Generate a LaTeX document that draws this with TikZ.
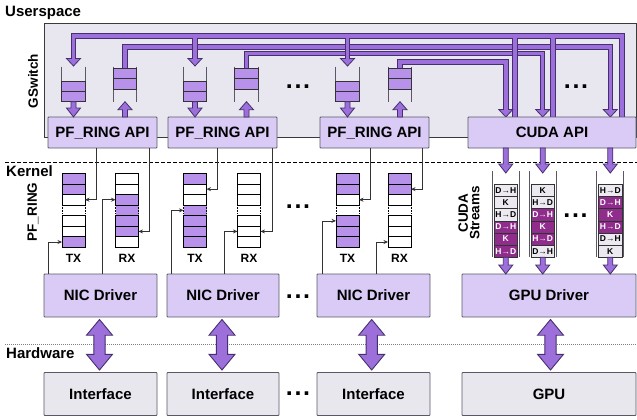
\documentclass[tikz,border=0pt]{standalone}
\usepackage{fontspec}
\setmainfont{Liberation Sans}
\usetikzlibrary{arrows.meta,calc}
\definecolor{panel}{HTML}{E8E6EE}
\definecolor{panelline}{HTML}{3A3A3A}
\definecolor{boxp}{HTML}{D9CBF5}
\definecolor{boxg}{HTML}{E9E7EE}
\definecolor{boxedge}{HTML}{5A5866}
\definecolor{qp}{HTML}{B892EA}
\definecolor{ap}{HTML}{9C6FDB}
\definecolor{ad}{HTML}{452F6E}
\definecolor{mag}{HTML}{8F2C8C}
\definecolor{lc}{HTML}{ECEAF0}
\definecolor{connc}{HTML}{333333}
\tikzset{
 lbl/.style={font=\fontsize{15}{18}\selectfont\bfseries, inner sep=0pt},
 rlbl/.style={font=\fontsize{13.5}{11.5}\selectfont\bfseries, inner sep=0pt, rotate=90, align=center},
 small/.style={font=\fontsize{12}{14}\selectfont\bfseries, inner sep=0pt},
 box/.style={draw=boxedge, line width=0.8pt, inner sep=0pt, rounded corners=0.8pt,
   font=\fontsize{15}{18}\selectfont\bfseries, text height=10.8pt, text depth=0pt},
 apibox/.style={box, fill=boxp, minimum height=31pt},
 drvbox/.style={box, fill=boxp, minimum height=43pt},
 hwbox/.style={box, fill=boxg, minimum height=43pt},
 ucell/.style={draw=connc, line width=0.7pt, fill=qp, minimum width=23.4pt, minimum height=10.3pt, inner sep=0pt, outer sep=0pt},
 qside/.style={draw=boxedge, line width=0.8pt},
 rcell/.style={minimum width=23pt, minimum height=10.57pt, inner sep=0pt, outer sep=0pt},
 rborder/.style={draw=black, line width=0.7pt},
 scell/.style={draw=connc, line width=0.6pt, minimum width=23.7pt, minimum height=12.17pt, inner sep=0pt, outer sep=0pt,
   font=\fontsize{8.5}{9}\selectfont\bfseries},
 conn/.style={draw=connc, line width=0.7pt, -{Stealth[length=4.5pt,width=4pt]}},
 fat/.style={draw=ad, fill=ap, line width=0.8pt, line join=miter},
 pipe/.style={draw=ap, line width=3.4pt, line join=miter, preaction={draw=ad, line width=5.4pt, line join=miter}},
 dotsn/.style={font=\fontsize{25}{25}\selectfont\bfseries, inner sep=0pt},
}
\newcommand\pipehead[2]{%
  \filldraw[fat] (#1-7,#2-7.5) -- (#1+7,#2-7.5) -- (#1,#2) -- cycle;
  \fill[ap] (#1-1.7,#2-8.6) rectangle (#1+1.7,#2-7);
}
\newcommand\fatarrow[6]{%
  \pgfmathsetmacro\dd{(#3>#2) ? 1 : -1}%
  \pgfmathsetmacro\hb{#3-\dd*#6}%
  \filldraw[fat] (#1-#4,#2) -- (#1-#4,\hb) -- (#1-#5,\hb) -- (#1,#3) -- (#1+#5,\hb) -- (#1+#4,\hb) -- (#1+#4,#2) -- cycle;
}
\newcommand\dblarrow[3]{%
  \filldraw[fat, line width=0.9pt] (#1,#2) -- (#1+13,#2+15.7) -- (#1+5.6,#2+15.7) -- (#1+5.6,#3-15.7) -- (#1+13,#3-15.7) -- (#1,#3)
   -- (#1-13,#3-15.7) -- (#1-5.6,#3-15.7) -- (#1-5.6,#2+15.7) -- (#1-13,#2+15.7) -- cycle;
}
\newcommand\threedots{.\kern1.7pt.\kern1.7pt.}
\begin{document}
\begin{tikzpicture}[x=1pt,y=-1pt]
\useasboundingbox (0,0) rectangle (637,420);
\fill[white] (0,0) rectangle (637,420);

% ---------- Userspace ----------
\node[draw=panelline, fill=panel, line width=0.8pt, minimum width=592pt, minimum height=114pt, inner sep=0pt] (gswitch) at (340,80) {};
\node[lbl, anchor=base west] (userspace) at (5,17) {Userspace};
\node[rlbl] (gswlbl) at (33,81) {GSwitch};

% pipe ports
\coordinate (tin1) at (73.5,58.5);
\coordinate (tin2) at (195,58.5);
\coordinate (tin3) at (347.5,58.5);
\coordinate (cin1) at (505.8,109.5);
\coordinate (cin2) at (542.7,109.5);
\coordinate (cin3) at (610.3,109.5);
\coordinate (cout1) at (515,117);
\coordinate (cout2) at (553,117);
\coordinate (cout3) at (622,117);

% user queues
\foreach \nm/\cx/\ya in {utx1/73.5/86.2, urx1/125/73.5, utx2/195/86.2, urx2/246.5/73.5, utx3/347.5/86.2, urx3/400/73.5} {
  \draw[qside] (\cx-11.7,66.7) -- (\cx-11.7,101.7) (\cx+11.7,66.7) -- (\cx+11.7,101.7);
  \node[ucell] (\nm a) at (\cx,\ya) {};
  \node[ucell] (\nm b) at (\cx,\ya+10.3) {};
}

% RX pipes to CUDA API
\draw[pipe] (urx3a.north) -- (400,62) -| (cin1);
\draw[pipe] (urx2a.north) -- (246.5,53.5) -| (cin2);
\draw[pipe] (urx1a.north) -- (125,47) -| (cin3);
% CUDA API fan-out to TX queues
\draw[pipe] (cout3) -- (622,36) -- (73.5,36) -- (tin1)
  (195,36) -- (tin2) (347.5,36) -- (tin3)
  (515,36) -- (cout1) (553,36) -- (cout2);
\pipehead{73.5}{66}
\pipehead{195}{66}
\pipehead{347.5}{66}
\pipehead{505.8}{117}
\pipehead{542.7}{117}
\pipehead{610.3}{117}

% API boxes
\node[apibox, minimum width=109pt] (api1) at (102.5,132.5) {PF\_RING API};
\node[apibox, minimum width=109pt] (api2) at (222.5,132.5) {PF\_RING API};
\node[apibox, minimum width=109pt] (api3) at (374.5,132.5) {PF\_RING API};
\node[apibox, minimum width=168pt] (cuda) at (552,132.5) {CUDA API};

% queue <-> API arrows
\fatarrow{73.5}{101.7}{117}{2.5}{7}{9}
\fatarrow{195}{101.7}{117}{2.5}{7}{9}
\fatarrow{347.5}{101.7}{117}{2.5}{7}{9}
\fatarrow{125}{117}{101.7}{2.5}{7}{8}
\fatarrow{246.5}{117}{101.7}{2.5}{7}{8}
\fatarrow{400}{117}{101.7}{2.5}{7}{8}

\node[dotsn] (ud1) at (298,86.5) {\threedots};
\node[dotsn] (ud2) at (576,86.5) {\threedots};

% ---------- Kernel ----------
\coordinate (kl) at (5,162.7);
\coordinate (kr) at (637,162.7);
\draw[black, line width=0.7pt, dash pattern=on 3.5pt off 2.5pt] (kl) -- (kr);
\node[lbl, anchor=base west] (kernel) at (6,176.7) {Kernel};
\node[rlbl] (pfr) at (33,212) {PF\_RING};

% kernel rings
\foreach \nm/\cx/\fills in {tx1/73.5/{qp,qp,white,white,white,white,qp},
                          rx1/127/{white,white,qp,qp,qp,qp,white},
                          tx2/195/{qp,white,white,qp,qp,qp,qp},
                          rx2/249/{white,white,white,white,white,white,white},
                          tx3/347.5/{qp,qp,white,white,qp,qp,qp},
                          rx3/399.5/{qp,qp,white,white,white,white,white}} {
  \foreach \f [count=\r] in \fills {
    \node[rcell, fill=\f] (\nm r\r) at (\cx,{173.3+(\r-0.5)*10.57}) {};
  }
  \foreach \r in {1,2,3,5,6,7} {
    \draw[rborder] (\nm r\r.north west) rectangle (\nm r\r.south east);
  }
  \draw[black, line width=0.6pt, densely dotted] (\nm r4.north west) -- (\nm r4.south west)
       (\nm r4.north east) -- (\nm r4.south east);
}
\node[small, anchor=base] (tx1l) at (73.5,262) {TX};
\node[small, anchor=base] (rx1l) at (127,262) {RX};
\node[small, anchor=base] (tx2l) at (195,262) {TX};
\node[small, anchor=base] (rx2l) at (249,262) {RX};
\node[small, anchor=base] (tx3l) at (347.5,262) {TX};
\node[small, anchor=base] (rx3l) at (399.5,262) {RX};
\node[dotsn] (kd1) at (298,207) {\threedots};

% driver boxes
\node[drvbox, minimum width=113pt] (nic1) at (100.5,295.5) {NIC Driver};
\node[drvbox, minimum width=112pt] (nic2) at (223,295.5) {NIC Driver};
\node[drvbox, minimum width=113pt] (nic3) at (373.5,295.5) {NIC Driver};
\node[drvbox, minimum width=174pt] (gpudrv) at (549,295.5) {GPU Driver};
\node[dotsn] (nd1) at (298,297) {\threedots};

% thin connectors API -> rings
\draw[conn] ([xshift=49pt]api1.south west) |- (tx1r3.east);
\draw[conn] ([xshift=102pt]api1.south west) |- (rx1r6.east);
\draw[conn] ([xshift=50pt]api2.south west) |- (tx2r2.east);
\draw[conn] ([xshift=104.5pt]api2.south west) |- (rx2r6.east);
\draw[conn] ([xshift=51pt]api3.south west) |- (tx3r3.east);
\draw[conn] ([xshift=103pt]api3.south west) |- (rx3r2.east);
% thin connectors NIC -> rings
\draw[conn] ([xshift=5pt]nic1.north west) |- (tx1r7.west);
\draw[conn] ([xshift=59pt]nic1.north west) |- (rx1r3.west);
\draw[conn] ([xshift=4.5pt]nic2.north west) |- (tx2r4.west);
\draw[conn] ([xshift=58pt]nic2.north west) |- (rx2r6.west);
\draw[conn] ([xshift=6pt]nic3.north west) |- (tx3r5.west);
\draw[conn] ([xshift=60pt]nic3.north west) |- (rx3r7.west);

% CUDA streams
\node[rlbl] (cstr) at (469,213) {CUDA\\Streams};
\foreach \nm/\cx/\cells in {s1/505.8/{D→H/lc/black, K/lc/black, H→D/lc/black, D→H/mag/white, K/mag/white, H→D/mag/white},
                           s2/542.7/{K/lc/black, H→D/lc/black, D→H/mag/white, K/mag/white, H→D/mag/white, D→H/lc/black},
                           s3/610.3/{H→D/lc/black, D→H/mag/white, K/mag/white, H→D/mag/white, D→H/lc/black, K/lc/black}} {
  \draw[qside] (\cx-13.5,171) -- (\cx-13.5,257.3) (\cx+13.5,171) -- (\cx+13.5,257.3);
  \foreach \t/\fc/\tc [count=\r] in \cells {
    \node[scell, fill=\fc, text=\tc] (\nm c\r) at (\cx,{184.3+(\r-0.5)*12.17}) {\t};
  }
  \fatarrow{\cx}{148}{173}{2.5}{7}{9}
  \fatarrow{\cx}{257.3}{274}{2.5}{7}{9}
}
\node[dotsn] (sd1) at (575.5,216) {\threedots};

% ---------- Hardware ----------
\coordinate (hl) at (5,344.3);
\coordinate (hr) at (637,344.3);
\draw[gray, line width=0.7pt, dash pattern=on 1pt off 1pt] (hl) -- (hr);
\node[lbl, anchor=base west] (hardware) at (6,358.5) {Hardware};

\node[hwbox, minimum width=113pt] (if1) at (100.5,394) {Interface};
\node[hwbox, minimum width=112pt] (if2) at (223,394) {Interface};
\node[hwbox, minimum width=113pt] (if3) at (373.5,394) {Interface};
\node[hwbox, minimum width=174pt] (gpu) at (549,394) {GPU};
\node[dotsn] (hd1) at (298,394) {\threedots};

\dblarrow{99.5}{319.5}{370}
\dblarrow{222}{319.5}{370}
\dblarrow{371.7}{319.5}{370}
\dblarrow{550.5}{319.5}{370}
\end{tikzpicture}
\end{document}
